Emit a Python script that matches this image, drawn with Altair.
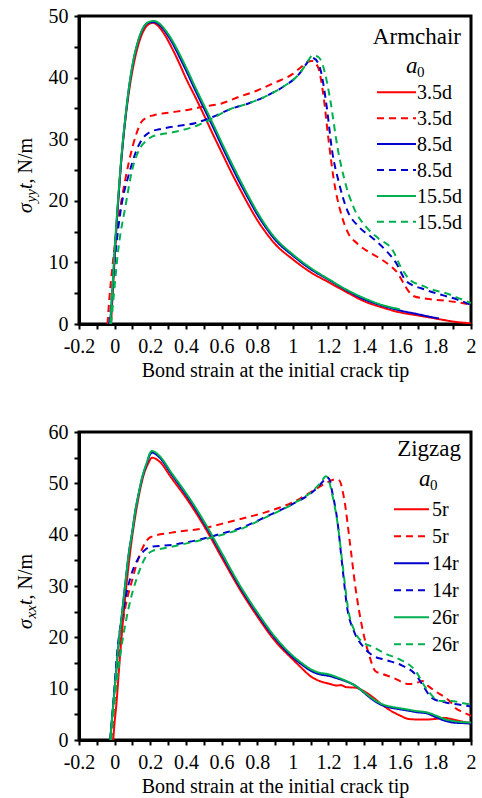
import altair as alt
import pandas as pd

FONT = "Liberation Serif"

# ---------------- Armchair panel: sigma_yy * t vs. bond strain ----------------
AC_IDS = ["3.5d solid", "3.5d dashed", "8.5d solid", "8.5d dashed", "15.5d solid", "15.5d dashed"]
AC_LABELS = ["3.5d", "3.5d", "8.5d", "8.5d", "15.5d", "15.5d"]

ac_rs_x = [-0.02, -0.005, 0.01, 0.03, 0.05, 0.07, 0.09, 0.11, 0.14, 0.17, 0.20, 0.215, 0.24, 0.28, 0.32, 0.36, 0.40, 0.45, 0.50, 0.55, 0.60, 0.65, 0.70, 0.75, 0.80, 0.85, 0.90, 1.00, 1.10, 1.20, 1.30, 1.40, 1.50, 1.60, 1.70, 1.80, 1.90, 2.00]
ac_rs_y = [0, 8, 15.5, 24, 30.5, 35.5, 39.5, 42.6, 46, 48, 48.8, 48.9, 48.5, 47.0, 44.9, 42.5, 39.9, 37.0, 34.0, 30.9, 27.9, 24.9, 22.1, 19.4, 16.9, 14.8, 13.0, 10.5, 8.4, 6.8, 5.2, 3.7, 2.7, 1.9, 1.4, 0.9, 0.4, 0.1]

ac_rd_x = [-0.04, -0.03, -0.01, 0.01, 0.04, 0.08, 0.12, 0.15, 0.18, 0.22, 0.30, 0.40, 0.50, 0.60, 0.70, 0.80, 0.90, 1.00, 1.05, 1.08, 1.11, 1.14, 1.17, 1.20, 1.23, 1.27, 1.31, 1.36, 1.42, 1.48, 1.54, 1.59, 1.62, 1.65, 1.68, 1.75, 1.85, 1.95, 2.00]
ac_rd_y = [0, 4, 10, 15, 20.3, 26.3, 30.7, 32.8, 33.5, 33.9, 34.3, 34.7, 35.3, 35.8, 36.9, 37.9, 39.2, 40.6, 41.8, 42.5, 42.7, 41.8, 37.5, 30.0, 23.4, 18.0, 14.8, 13.1, 11.8, 10.8, 9.6, 8.2, 6.7, 5.3, 4.5, 4.1, 3.8, 3.4, 3.1]

ac_bs_x = [-0.025, -0.01, 0.0, 0.02, 0.04, 0.06, 0.08, 0.10, 0.13, 0.16, 0.19, 0.22, 0.25, 0.29, 0.33, 0.37, 0.41, 0.45, 0.50, 0.55, 0.60, 0.65, 0.70, 0.75, 0.80, 0.85, 0.90, 1.00, 1.10, 1.20, 1.30, 1.40, 1.50, 1.60, 1.70, 1.80, 1.82]
ac_bs_y = [0, 6.5, 11.5, 20, 27.5, 33.3, 38.2, 41.9, 45.7, 48.0, 48.9, 49.0, 48.6, 47.2, 45.3, 43.0, 40.6, 38.1, 35.1, 32.1, 29.0, 26.0, 23.1, 20.4, 17.8, 15.6, 13.7, 11.1, 8.9, 7.2, 5.5, 4.0, 3.0, 2.2, 1.6, 1.0, 0.9]

ac_bd_x = [-0.03, -0.02, 0.0, 0.02, 0.04, 0.08, 0.12, 0.15, 0.20, 0.25, 0.32, 0.45, 0.55, 0.65, 0.75, 0.85, 0.95, 1.03, 1.08, 1.10, 1.12, 1.155, 1.19, 1.22, 1.26, 1.305, 1.37, 1.45, 1.52, 1.58, 1.63, 1.67, 1.72, 1.78, 1.85, 1.93, 2.0]
ac_bd_y = [0, 3, 10, 15.5, 19.5, 24.3, 28.0, 29.8, 31.2, 31.6, 32.0, 32.6, 33.6, 34.9, 35.8, 37.0, 38.6, 40.4, 42.4, 43.2, 43.1, 41.3, 35.3, 28.2, 22.8, 18.5, 15.8, 13.9, 12.0, 9.9, 7.2, 6.3, 5.8, 5.2, 4.6, 3.9, 3.1]

ac_gs_x = [-0.025, -0.01, 0.0, 0.02, 0.04, 0.06, 0.08, 0.10, 0.13, 0.16, 0.19, 0.22, 0.25, 0.29, 0.33, 0.37, 0.41, 0.45, 0.50, 0.55, 0.60, 0.65, 0.70, 0.75, 0.80, 0.85, 0.90, 1.00, 1.10, 1.20, 1.30, 1.40, 1.50, 1.60]
ac_gs_y = [0, 7, 12, 20.5, 27.8, 33.5, 38.3, 42.0, 45.8, 48.1, 49.0, 49.2, 48.8, 47.5, 45.7, 43.5, 41.1, 38.6, 35.6, 32.6, 29.5, 26.5, 23.6, 20.8, 18.2, 15.9, 14.0, 11.3, 9.1, 7.3, 5.6, 4.2, 3.1, 2.4]

ac_gd_x = [-0.02, -0.01, 0.02, 0.06, 0.10, 0.14, 0.18, 0.21, 0.26, 0.34, 0.47, 0.55, 0.65, 0.75, 0.85, 0.95, 1.03, 1.08, 1.11, 1.14, 1.165, 1.19, 1.21, 1.25, 1.29, 1.34, 1.41, 1.48, 1.56, 1.605, 1.66, 1.72, 1.78, 1.86, 1.93, 2.0]
ac_gd_y = [0, 3, 12, 19, 25.2, 28.4, 29.8, 30.4, 30.8, 31.2, 32.3, 33.4, 34.9, 35.8, 37.0, 38.6, 40.4, 42.4, 43.6, 43.4, 42.3, 39.5, 36.4, 28.8, 23.4, 19.0, 15.8, 13.9, 12.0, 9.3, 7.1, 6.3, 5.6, 5.0, 4.2, 3.4]

# ---------------- Zigzag panel: sigma_xx * t vs. bond strain ----------------
ZZ_IDS = ["5r solid", "5r dashed", "14r solid", "14r dashed", "26r solid", "26r dashed"]
ZZ_LABELS = ["5r", "5r", "14r", "14r", "26r", "26r"]

zz_rs_x = [-0.008, 0.0, 0.01, 0.025, 0.04, 0.06, 0.08, 0.10, 0.12, 0.14, 0.16, 0.19, 0.21, 0.25, 0.32, 0.42, 0.51, 0.60, 0.70, 0.80, 0.90, 1.00, 1.05, 1.10, 1.15, 1.20, 1.25, 1.27, 1.30, 1.35, 1.40, 1.45, 1.50, 1.55, 1.60, 1.65, 1.70, 1.75, 1.80, 1.85, 1.90, 1.95, 2.0]
zz_rs_y = [0, 3.5, 7, 14, 20.5, 28, 34.5, 40, 44.5, 48.3, 51.3, 54.0, 55.0, 54.3, 51.0, 46.2, 41.2, 35.6, 29.5, 24.1, 19.3, 15.7, 14.0, 12.4, 11.5, 11.0, 10.6, 10.7, 10.3, 10.2, 9.5, 8.3, 6.9, 5.7, 4.8, 4.1, 4.0, 4.0, 4.1, 4.3, 4.0, 3.6, 3.3]

zz_rd_x = [-0.02, -0.01, 0.0, 0.022, 0.06, 0.097, 0.135, 0.172, 0.20, 0.32, 0.51, 0.60, 0.70, 0.85, 1.00, 1.12, 1.20, 1.24, 1.26, 1.287, 1.324, 1.352, 1.39, 1.427, 1.464, 1.50, 1.558, 1.652, 1.70, 1.727, 1.76, 1.80, 1.858, 1.88, 1.914, 1.95, 2.0]
zz_rd_y = [0, 3, 8, 16.6, 25.8, 31.0, 35.5, 38.4, 39.5, 40.4, 41.3, 42.1, 43.0, 44.4, 46.3, 48.7, 50.3, 50.8, 50.6, 47.2, 37.4, 29.6, 21.8, 16.7, 13.4, 12.9, 12.2, 10.9, 11.2, 11.5, 10.5, 9.5, 8.2, 7.6, 6.2, 5.5, 4.7]

zz_bs_x = [-0.025, -0.01, 0.004, 0.02, 0.041, 0.06, 0.079, 0.10, 0.116, 0.135, 0.154, 0.18, 0.20, 0.21, 0.25, 0.32, 0.42, 0.51, 0.60, 0.70, 0.80, 0.90, 1.00, 1.05, 1.10, 1.15, 1.20, 1.25, 1.30, 1.35, 1.40, 1.45, 1.50, 1.55, 1.60, 1.65, 1.70, 1.75, 1.80, 1.85, 1.90, 1.95, 2.0]
zz_bs_y = [0, 6, 11.5, 18, 24.5, 30.5, 36.2, 40.8, 44.6, 48, 51.0, 53.8, 55.7, 56.0, 55.1, 51.7, 46.8, 41.8, 36.2, 30.0, 24.6, 19.8, 16.1, 14.7, 13.5, 12.8, 12.5, 12.0, 11.4, 10.6, 9.2, 7.8, 6.8, 6.3, 6.0, 5.7, 5.4, 5.2, 4.5, 3.8, 3.4, 3.3, 3.2]

zz_bd_x = [-0.025, -0.01, 0.013, 0.051, 0.088, 0.135, 0.17, 0.20, 0.32, 0.55, 0.60, 0.70, 0.85, 1.00, 1.12, 1.17, 1.19, 1.205, 1.22, 1.25, 1.277, 1.305, 1.343, 1.40, 1.446, 1.52, 1.614, 1.69, 1.727, 1.78, 1.858, 1.93, 2.0]
zz_bd_y = [0, 6, 16.6, 25.8, 31.6, 35.5, 37.0, 37.6, 38.0, 39.7, 40.2, 41.2, 43.5, 46.0, 48.6, 50.4, 51.2, 50.8, 48.5, 42.7, 34.2, 25.8, 21.2, 18.0, 16.5, 15.6, 14.5, 12.7, 10.8, 8.2, 7.3, 6.9, 6.5]

zz_gs_x = [-0.025, -0.01, 0.004, 0.02, 0.041, 0.06, 0.079, 0.10, 0.116, 0.135, 0.154, 0.18, 0.20, 0.21, 0.25, 0.32, 0.42, 0.51, 0.60, 0.70, 0.80, 0.90, 1.00, 1.05, 1.10, 1.15, 1.20, 1.25, 1.30, 1.35, 1.40, 1.45, 1.50, 1.55, 1.60, 1.65, 1.70, 1.75, 1.80, 1.85, 1.90, 1.95, 2.0]
zz_gs_y = [0, 6, 11.5, 18, 24.5, 30.5, 36.2, 40.8, 44.6, 48, 51.1, 54, 56.0, 56.3, 55.4, 52.0, 47.1, 42.1, 36.5, 30.3, 24.9, 20.1, 16.4, 15.0, 13.8, 13.1, 12.8, 12.2, 11.5, 10.6, 9.3, 8.0, 7.0, 6.5, 6.2, 5.9, 5.6, 5.4, 4.8, 4.1, 3.7, 3.5, 3.4]

zz_gd_x = [-0.02, -0.005, 0.032, 0.079, 0.125, 0.172, 0.21, 0.30, 0.55, 0.70, 0.85, 1.00, 1.12, 1.16, 1.185, 1.20, 1.22, 1.25, 1.28, 1.31, 1.35, 1.40, 1.446, 1.52, 1.60, 1.69, 1.745, 1.83, 1.89, 1.95, 2.0]
zz_gd_y = [0, 6, 16.6, 25.8, 31.6, 35.5, 36.8, 37.5, 39.5, 41.0, 43.4, 46.0, 48.8, 50.3, 51.4, 50.8, 48.0, 42.5, 34.0, 25.6, 21.0, 18.9, 18.2, 16.8, 15.7, 13.4, 10.2, 7.6, 7.6, 7.2, 6.9]

# ---------------- shared styling ----------------
SERIES_COLORS = ["#ff0000", "#ff0000", "#0000cc", "#0000cc", "#00b050", "#00b050"]
SERIES_DASHES = [[1, 0], [7, 5], [1, 0], [7, 5], [1, 0], [7, 5]]
X_TICKS = [-0.2, -0.1, 0.0, 0.1, 0.2, 0.3, 0.4, 0.5, 0.6, 0.7, 0.8, 0.9, 1.0,
           1.1, 1.2, 1.3, 1.4, 1.5, 1.6, 1.7, 1.8, 1.9, 2.0]
AC_Y_TICKS = [0, 5, 10, 15, 20, 25, 30, 35, 40, 45, 50]
ZZ_Y_TICKS = [0, 5, 10, 15, 20, 25, 30, 35, 40, 45, 50, 55, 60]

W, H = 392, 308
ONE = alt.Data(values=[{"k": 0}])


def text(label, x, y, size=20, align="left", italic=False, angle=0):
    kw = dict(text=label, font=FONT, fontSize=size, align=align,
              baseline="alphabetic", color="black")
    if italic:
        kw["fontStyle"] = "italic"
    if angle:
        kw["angle"] = angle
    return alt.Chart(ONE).mark_text(**kw).encode(x=alt.value(x), y=alt.value(y))


def panel(curves, ids, labels, y_max, y_ticks, name, sub, legend):
    frames = [pd.DataFrame({"x": xs, "y": ys, "series": sid})
              for (xs, ys), sid in zip(curves, ids)]
    df = pd.concat(frames, ignore_index=True)

    x_axis = alt.Axis(values=X_TICKS, title="Bond strain at the initial crack tip",
                      labelExpr="round(datum.value*10) % 2 == 0 ? toString(round(datum.value*10)/10) : ''",
                      tickSize=5, labelPadding=7, titlePadding=4, labelFlush=False)
    y_axis = alt.Axis(values=y_ticks, title="",
                      labelExpr="datum.value % 10 == 0 ? toString(datum.value) : ''",
                      tickSize=5, labelPadding=6)

    layers = []
    for sid in ids:
        layers.append(
            alt.Chart(df).transform_filter(alt.datum.series == sid)
            .mark_line(strokeWidth=2, clip=True, interpolate="monotone")
            .encode(
                x=alt.X("x:Q", scale=alt.Scale(domain=[-0.2, 2.0], nice=False, zero=False), axis=x_axis),
                y=alt.Y("y:Q", scale=alt.Scale(domain=[0, y_max], nice=False), axis=y_axis),
                color=alt.Color("series:N", scale=alt.Scale(domain=ids, range=SERIES_COLORS), legend=None),
                strokeDash=alt.StrokeDash("series:N", scale=alt.Scale(domain=ids, range=SERIES_DASHES), legend=None),
            )
        )

    # y-axis title built from pieces so the subscript can sit lower
    layers += [
        text("σ", -47, 197, italic=True, angle=270),
        text(sub, -43, 186.5, size=15, italic=True, angle=270),
        text("t", -47, 173, italic=True, angle=270),
        text(", N/m", -47, 167.5, angle=270),
    ]

    # in-plot legend
    lg = legend
    layers += [
        text(name, lg["title_x"], lg["title_y"], size=23, align="right"),
        text("a", lg["a_x"], lg["a_y"], size=23, italic=True),
        text("0", lg["a_x"] + 11, lg["a_y"] + 4, size=15),
    ]
    for i, (sid, lab) in enumerate(zip(ids, labels)):
        row_y = lg["row0"] + i * lg["dy"]
        layers.append(
            alt.Chart(ONE).mark_rule(strokeWidth=2, color=SERIES_COLORS[i],
                                     strokeDash=SERIES_DASHES[i])
            .encode(x=alt.value(lg["x1"]), x2=alt.value(lg["x2"]), y=alt.value(row_y))
        )
        layers.append(text(lab, lg["tx"], row_y + 7))

    return alt.layer(*layers).properties(width=W, height=H)


armchair = panel(
    [(ac_rs_x, ac_rs_y), (ac_rd_x, ac_rd_y), (ac_bs_x, ac_bs_y),
     (ac_bd_x, ac_bd_y), (ac_gs_x, ac_gs_y), (ac_gd_x, ac_gd_y)],
    AC_IDS, AC_LABELS, 50, AC_Y_TICKS, "Armchair", "yy",
    dict(title_x=382, title_y=28, a_x=327, a_y=57,
         row0=76.3, dy=25.9, x1=298, x2=337, tx=338),
)

zigzag = panel(
    [(zz_rs_x, zz_rs_y), (zz_rd_x, zz_rd_y), (zz_bs_x, zz_bs_y),
     (zz_bd_x, zz_bd_y), (zz_gs_x, zz_gs_y), (zz_gd_x, zz_gd_y)],
    ZZ_IDS, ZZ_LABELS, 60, ZZ_Y_TICKS, "Zigzag", "xx",
    dict(title_x=382, title_y=24, a_x=340, a_y=54,
         row0=77.3, dy=27.0, x1=315, x2=350, tx=353),
)

chart = (
    alt.vconcat(armchair, zigzag, spacing=38)
    .properties(padding={"left": 14, "top": 4, "right": 4, "bottom": 2})
    .configure_view(stroke="black", strokeWidth=3)
    .configure_axis(
        labelFont=FONT, titleFont=FONT, labelFontSize=20, titleFontSize=20,
        titleFontWeight="normal", labelColor="black", titleColor="black",
        domainColor="black", domainWidth=3, tickColor="black", tickWidth=2,
        grid=False,
    )
)

chart.save("out.html", embed_options={"renderer": "svg", "actions": False})
